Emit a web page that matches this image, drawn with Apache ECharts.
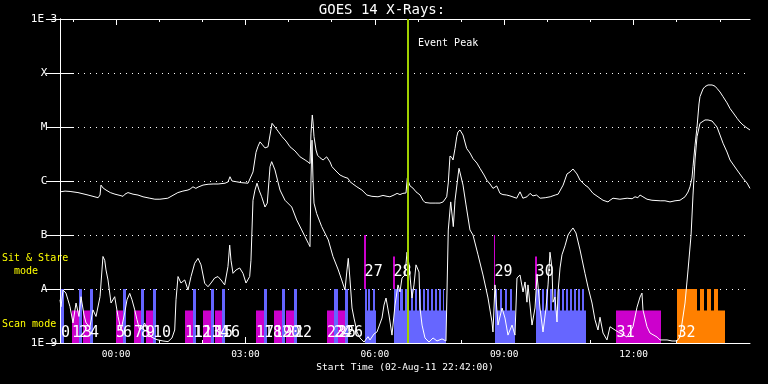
<!DOCTYPE html>
<html><head><meta charset="utf-8">
<script src="https://cdn.jsdelivr.net/npm/echarts@6/dist/echarts.min.js"></script>
<style>html,body{margin:0;padding:0;background:#000;}#c{width:768px;height:384px;}</style>
</head><body><div id="c"></div>
<script>
// ---- time axis: minutes after 02-Aug-11 22:42:00 ----
const tickMinutes = [78, 258, 438, 618, 798];
const tickLabels = ['00:00', '03:00', '06:00', '09:00', '12:00'];
const hourMinutes = [18, 78, 138, 198, 258, 318, 378, 438, 498, 558, 618, 678, 738, 798, 858, 918];
const levelExp = [-9, -8, -7, -6, -5, -4, -3];
const levelLabels = ['1E-9', 'A', 'B', 'C', 'M', 'X', '1E-3'];
const eventPeak = 484.2;

// ---- GOES 14 long channel (1-8 A), [minute, W/m2] ----
const xrsLong = [[0,6.3e-7],[7,6.5e-7],[14,6.4e-7],[25,6.1e-7],[39,5.5e-7],[53,4.9e-7],[55.7,5.5e-7],[57,8.4e-7],[60,7.4e-7],[64,6.8e-7],[70,6.1e-7],[76.5,5.7e-7],[83.5,5.4e-7],[87.7,5.2e-7],[90.4,5.7e-7],[94.6,6.1e-7],[101.6,5.7e-7],[108.5,5.5e-7],[115.5,5.1e-7],[125,4.8e-7],[132,4.6e-7],[139,4.6e-7],[150,4.8e-7],[160,5.7e-7],[164,6.1e-7],[171,6.5e-7],[178,6.8e-7],[181,7.1e-7],[185,7.8e-7],[189,7.3e-7],[192,7.7e-7],[199,8.4e-7],[206,8.7e-7],[213,8.8e-7],[220,8.8e-7],[229.6,9.1e-7],[233.7,9.6e-7],[236.5,1.2e-6],[239.3,1.0e-6],[245,9.7e-7],[253,9.3e-7],[261.6,9.1e-7],[264.3,9.7e-7],[268.5,1.47e-6],[272.7,3.4e-6],[275.5,4.4e-6],[278.3,5.3e-6],[281,4.8e-6],[285.2,4.1e-6],[289.4,4.3e-6],[292.2,7.1e-6],[295,1.17e-5],[299,1.0e-5],[303.3,8.4e-6],[309,6.6e-6],[314.4,5.5e-6],[320,4.3e-6],[327,3.6e-6],[334,2.8e-6],[341,2.45e-6],[345,2.25e-6],[347.8,2.1e-6],[349.2,7.7e-6],[351,1.67e-5],[352,1.24e-5],[353.4,6.6e-6],[356.2,3.75e-6],[358.3,3.0e-6],[361.7,2.7e-6],[366,2.45e-6],[371,2.8e-6],[375.7,2.25e-6],[378.4,1.84e-6],[384,1.53e-6],[389.6,1.29e-6],[395,1.19e-6],[400.7,1.12e-6],[403.5,9.7e-7],[407.6,8.8e-7],[413,7.8e-7],[420,6.8e-7],[427,5.5e-7],[434,5.2e-7],[442.4,5.1e-7],[449.4,5.4e-7],[455,5.2e-7],[459,5.1e-7],[464.7,5.5e-7],[469,5.9e-7],[473,5.6e-7],[477,5.9e-7],[481.4,6.0e-7],[483.2,1.14e-6],[487,8.1e-7],[491,7.4e-7],[495.3,6.3e-7],[498,6.5e-7],[501,5.5e-7],[505,4.4e-7],[507.8,4.0e-7],[514.8,3.9e-7],[523,3.9e-7],[528.7,3.9e-7],[533,4.1e-7],[535.6,4.4e-7],[538,5.1e-7],[540.2,9.2e-7],[542.6,2.9e-6],[545.4,2.7e-6],[546.8,2.45e-6],[549.6,4.0e-6],[552,6.6e-6],[553.7,8.1e-6],[556.5,8.8e-6],[560.7,7.1e-6],[565.8,4.0e-6],[570.4,3.3e-6],[574.6,2.6e-6],[580,2.15e-6],[584.3,1.72e-6],[590,1.29e-6],[593.7,1.04e-6],[598.3,8.8e-7],[602.4,7.3e-7],[604.5,7.7e-7],[607.6,8.1e-7],[612.2,5.9e-7],[616.3,5.6e-7],[621.5,5.5e-7],[626,5.3e-7],[635.4,4.8e-7],[637,5.3e-7],[640,6.3e-7],[644,4.8e-7],[649.7,5.1e-7],[654,5.9e-7],[658,5.3e-7],[663,5.5e-7],[668,4.8e-7],[675,4.9e-7],[682,5.1e-7],[689,5.5e-7],[693,5.7e-7],[695.7,6.0e-7],[700,8.4e-7],[705.4,1.35e-6],[709.6,1.47e-6],[713.7,1.67e-6],[719.3,1.35e-6],[723.5,1.04e-6],[730.4,8.4e-7],[734.6,7.7e-7],[741.6,5.9e-7],[748.5,5.1e-7],[755.5,4.4e-7],[762.4,4.1e-7],[765.2,4.4e-7],[769.4,4.8e-7],[779,4.6e-7],[789,4.8e-7],[796,4.7e-7],[800,5.1e-7],[804,4.9e-7],[807,5.5e-7],[811,5.1e-7],[816.7,4.6e-7],[823.6,4.4e-7],[835,4.3e-7],[841.7,4.3e-7],[848.7,4.1e-7],[855.7,4.3e-7],[862.6,4.4e-7],[869.6,5.1e-7],[873.8,6.25e-7],[876.5,7.8e-7],[879.3,1.14e-6],[880.7,1.84e-6],[883.5,4.6e-6],[886.3,1.0e-5],[889,2.67e-5],[890.4,3.64e-5],[894.6,5.05e-5],[897.4,5.6e-5],[901.6,6.0e-5],[907.2,6.0e-5],[911.3,5.7e-5],[914,5.2e-5],[918.3,4.45e-5],[922.5,3.64e-5],[928,2.8e-5],[932.2,2.2e-5],[937.8,1.74e-5],[942,1.45e-5],[946,1.24e-5],[950.3,1.09e-5],[955.8,9.6e-6],[960,8.8e-6]];

// ---- GOES 14 short channel (0.5-4 A), [minute, W/m2] ----
const xrsShort = [[0,6.3e-9],[1.4,4.7e-9],[4.2,9.6e-9],[8.3,8.4e-9],[11.1,6.3e-9],[13.9,4.7e-9],[18.1,2.35e-9],[22.3,5.5e-9],[26.4,3.1e-9],[29.2,7.2e-9],[33.4,3.3e-9],[36.2,2.35e-9],[41.7,2.0e-9],[45.9,4.1e-9],[50.1,3.1e-9],[55.7,7.2e-9],[58.4,2.25e-8],[59.8,4.0e-8],[62.2,3.4e-8],[64,2.25e-8],[66.8,1.47e-8],[71,5.5e-9],[76.1,7.2e-9],[80.7,3.1e-9],[84.9,1.74e-9],[90,3.6e-9],[93.2,6.3e-9],[97,8.3e-9],[100.2,6.3e-9],[104,4.1e-9],[107.1,2.7e-9],[110.9,1.74e-9],[114.1,1.9e-9],[117.8,2.35e-9],[122.4,1.6e-9],[126.6,1.31e-9],[132.2,1.19e-9],[136.3,1.14e-9],[143.3,1.09e-9],[150.3,1.06e-9],[155.8,1.24e-9],[159.6,1.74e-9],[161.4,6.3e-9],[164.2,1.7e-8],[168.3,1.29e-8],[173.5,1.47e-8],[178.1,9.6e-9],[182.3,1.7e-8],[187.4,3.0e-8],[192,3.7e-8],[196.2,2.8e-8],[201.3,1.28e-8],[205.9,1.1e-8],[210.1,1.29e-8],[215.2,1.6e-8],[219.8,1.7e-8],[224,1.47e-8],[229.1,1.19e-8],[233.7,2.6e-8],[236.1,6.5e-8],[237.9,3.4e-8],[240.7,1.95e-8],[244.9,2.25e-8],[250,2.45e-8],[254.6,1.95e-8],[258.8,1.29e-8],[263.9,1.7e-8],[265.7,3.4e-8],[268.5,4.4e-7],[271.3,6.8e-7],[274.1,9.1e-7],[276.9,6.8e-7],[280.6,5.1e-7],[285.2,3.3e-7],[288.4,3.9e-7],[292.2,1.84e-6],[294.5,2.28e-6],[299.1,1.6e-6],[306.1,6.8e-7],[313,4.4e-7],[322.4,3.3e-7],[329.3,1.9e-7],[336.3,1.24e-7],[340.9,9.3e-8],[345.5,7.0e-8],[347.8,6.1e-8],[349.2,1.04e-6],[350.6,5.7e-6],[352,1.04e-6],[353.4,3.9e-7],[357.1,2.5e-7],[364.1,1.43e-7],[373.3,8.1e-8],[379.8,4.0e-8],[387.2,2.25e-8],[391.9,1.47e-8],[396.5,9.6e-9],[399.3,2.25e-8],[401.1,3.7e-8],[403.5,1.47e-8],[406.3,4.45e-9],[409,2.9e-9],[413.2,1.6e-9],[417.4,1.24e-9],[423,1.04e-9],[428.5,1.31e-9],[431.3,1.14e-9],[436.9,1.47e-9],[441,1.6e-9],[448,2.9e-9],[450.8,5.05e-9],[453.6,6.8e-9],[457.7,3.3e-9],[461.9,1.4e-9],[466.1,5.05e-9],[470.3,1.19e-8],[473,8.8e-9],[475.8,1.6e-8],[480,1.82e-8],[482.8,4.8e-8],[485.6,2.8e-8],[489.7,6.8e-9],[492.5,1.19e-8],[495.3,2.8e-8],[499.5,2.06e-8],[500.9,4.45e-9],[503.7,2.15e-9],[507.8,1.24e-9],[513.4,1.04e-9],[519,1.24e-9],[524.5,1.09e-9],[531.5,1.19e-9],[537,1.09e-9],[540.2,1.24e-7],[543.6,4.1e-7],[547.2,1.43e-7],[549.6,4.4e-7],[555.1,1.72e-6],[560.7,8.4e-7],[564.9,3.6e-7],[570.4,1.24e-7],[574.6,1.0e-7],[581.6,4.3e-8],[588.5,1.82e-8],[595.5,6.8e-9],[601,2.45e-9],[602.4,1.6e-9],[605.2,1.19e-8],[609.4,2.15e-9],[615,4.45e-9],[619.1,2.9e-9],[623.3,1.4e-9],[628.9,2.15e-9],[633,1.4e-9],[635.8,1.6e-8],[640,1.82e-8],[644.2,8.8e-9],[647,1.35e-8],[649.7,5.7e-9],[651.1,1.19e-8],[656.7,2.15e-9],[660.9,4.45e-9],[663.7,1.82e-8],[667.8,4.45e-9],[672,1.6e-9],[676.2,4.45e-9],[679,1.19e-8],[681.7,4.8e-8],[684.5,2.45e-8],[685.9,5.7e-9],[688.7,7.1e-9],[691.5,2.45e-9],[692.9,8.8e-9],[695.7,2.45e-8],[698.4,4.3e-8],[702.6,6.3e-8],[706.8,1.0e-7],[709.6,1.14e-7],[713.7,1.35e-7],[717.9,1.09e-7],[723.5,5.3e-8],[730.4,1.95e-8],[734.6,1.09e-8],[740.2,5.5e-9],[744.3,2.7e-9],[748.5,1.74e-9],[751.3,3.0e-9],[755.5,1.53e-9],[761,1.14e-9],[765.2,2.0e-9],[772.2,1.74e-9],[779.1,1.53e-9],[788.9,1.29e-9],[797.2,2.0e-9],[802.8,4.6e-9],[807,7.1e-9],[809.7,8.4e-9],[811.1,4.1e-9],[816.7,2.0e-9],[820.9,1.53e-9],[830.7,1.29e-9],[834.8,1.14e-9],[844.6,1.14e-9],[851.5,1.09e-9],[858.4,1.09e-9],[862.6,1.29e-9],[869.6,5.5e-9],[873.8,2.25e-8],[878,1.0e-7],[880.7,5.5e-7],[883.5,2.45e-6],[886.3,6.6e-6],[890.4,1.17e-5],[897.4,1.35e-5],[901.6,1.35e-5],[907.2,1.29e-5],[914.1,1.0e-5],[918.3,7.1e-6],[922.5,5.0e-6],[928,3.44e-6],[932.2,2.45e-6],[941.9,1.6e-6],[950.3,1.12e-6],[955.8,9.2e-7],[960,7.3e-7]];

// ---- observation bars (levels in W/m2 on the same log scale) ----
const BASE = 1e-9, FULL = 1e-8, LOW = 4e-9;
const scanIds   = [0,1,2,3,4,5,6,7,8,9,10,11,12,13,14,15,16,17,18,19,20,21,22,23,24,25,26];
const scanKind  = ['S','R','S','R','S','R','S','R','S','R','S','R','S','R','S','R','S','R','S','R','S','R','S','R','S','R','S'];
const scanStart = [1.4,16.7,26.4,32,41.7,77.9,87.7,103,112.7,119.7,129.4,173.9,185,199,210.1,215.7,225.4,272.7,283.8,297.7,308.9,314.4,325.6,371.5,381.2,386.8,396.5];
const scanEnd   = [5.6,26.4,30.6,41.7,45.9,87.7,91.8,112.7,116.9,129.4,133.6,185,189.2,210.1,214.3,225.4,229.6,283.8,288,308.9,313,325.6,329.7,381.2,386.8,396.5,400.7];

const ssIds        = [27, 28, 29, 30];
const ssMarkStart  = [423, 463.3, 603.8, 660.9];
const ssMarkEnd    = [425.9, 466.1, 605.6, 663.7];
const ssMarkTop    = [1e-7, 4e-8, 1e-7, 4e-8];
const ssBlockStart = [424.3, 464.7, 605.2, 662.3];
const ssBlockEnd   = [439.6, 537, 633, 731.8];
const ssSpikes = [
  [[424.3,427.1],[428.5,431.3],[435.4,438.2]],
  [[464.7,471],[473,477],[480,485.5],[488.5,491],[494,496.7],[499.5,502],[505,507.8],[510.6,513.4],[516,519],[521.7,524.5],[527.3,530],[533,534.3]],
  [[605.2,608],[612.2,615],[619.1,622],[626.1,628.9]],
  [[662.3,667.8],[670.6,673.4],[676.2,679],[681.7,684.5],[687.3,690.1],[692.9,695.7],[698.4,701.2],[704,706.8],[709.6,712.3],[715.1,717.9],[720.7,723.5],[726.3,729]]
];
const rasterId = 31, rasterSpan = [773.6, 836.2];
const orangeId = 32, orangeSpan = [858.4, 925.2];
const orangeSpikes = [[858.4,886.3],[890.4,895.9],[900.2,905.8],[909.9,915.5]];

// ---- build bar tables ----
const blueBars = [], magentaBars = [], orangeBars = [];
scanIds.forEach((id, i) => {
  if (scanKind[i] === 'S') blueBars.push([scanStart[i], scanEnd[i], BASE, FULL]);
  else magentaBars.push([scanStart[i], scanEnd[i], BASE, LOW]);
});
ssIds.forEach((id, i) => {
  blueBars.push([ssBlockStart[i], ssBlockEnd[i], BASE, LOW]);
  ssSpikes[i].forEach(s => blueBars.push([s[0], s[1], BASE, FULL]));
  magentaBars.push([ssMarkStart[i], ssMarkEnd[i], FULL, ssMarkTop[i]]);
});
magentaBars.push([rasterSpan[0], rasterSpan[1], BASE, LOW]);
orangeBars.push([orangeSpan[0], orangeSpan[1], BASE, LOW]);
orangeSpikes.forEach(s => orangeBars.push([s[0], s[1], BASE, FULL]));

const SCAN_LABEL_Y = 1.55e-9, SS_LABEL_Y = 2.07e-8;
const labelData = [];
scanIds.forEach((id, i) => labelData.push([scanStart[i], SCAN_LABEL_Y, String(id)]));
ssIds.forEach((id, i) => labelData.push([ssMarkStart[i] + 0.8, SS_LABEL_Y, String(id)]));
labelData.push([rasterSpan[0] + 0.8, SCAN_LABEL_Y, String(rasterId)]);
labelData.push([orangeSpan[0] + 0.8, SCAN_LABEL_Y, String(orangeId)]);

function barItem(params, api) {
  const a = api.coord([api.value(0), api.value(3)]);
  const b = api.coord([api.value(1), api.value(2)]);
  const x0 = Math.round(a[0]), x1 = Math.max(Math.round(b[0]), x0 + 1);
  return { type: 'rect', shape: { x: x0, y: a[1], width: x1 - x0, height: b[1] - a[1] },
           style: { fill: api.visual('color') } };
}
function labelItem(params, api) {
  const p = api.coord([api.value(0), api.value(1)]);
  return { type: 'text', x: p[0], y: p[1],
           style: { text: labelData[params.dataIndex][2], fill: '#fff',
                    font: '15px "DejaVu Sans Mono"', align: 'left', verticalAlign: 'middle' } };
}

const W = '#ffffff';
const MONO = 'DejaVu Sans Mono';
const xBase = { type: 'value', min: 0, max: 960, splitLine: { show: false } };
const yBase = { type: 'log', logBase: 10, min: 1e-9, max: 1e-3 };

const chart = echarts.init(document.getElementById('c'), null, { renderer: 'canvas' });
chart.setOption({
  backgroundColor: '#000',
  animation: false,
  grid: { left: 60, right: 18, top: 19, bottom: 41, containLabel: false, outerBoundsMode: 'none' },
  xAxis: [
    Object.assign({}, xBase, { position: 'bottom',
      axisLine: { show: true, lineStyle: { color: W, width: 1 } },
      axisTick: { show: true, inside: true, length: 6, customValues: tickMinutes, lineStyle: { color: W } },
      axisLabel: { show: true, customValues: tickMinutes, color: W, fontFamily: MONO, fontSize: 9.5, margin: 7,
        formatter: v => tickLabels[tickMinutes.indexOf(Math.round(v))] || '' } }),
    Object.assign({}, xBase, { position: 'bottom',
      axisLine: { show: false },
      axisTick: { show: true, inside: true, length: 3, customValues: hourMinutes, lineStyle: { color: W } },
      axisLabel: { show: false } }),
    Object.assign({}, xBase, { position: 'top',
      axisLine: { show: true, lineStyle: { color: W, width: 1 } },
      axisTick: { show: true, inside: true, length: 3, customValues: hourMinutes, lineStyle: { color: W } },
      axisLabel: { show: false } }),
    Object.assign({}, xBase, { position: 'top',
      axisLine: { show: false },
      axisTick: { show: true, inside: true, length: 6, customValues: tickMinutes, lineStyle: { color: W } },
      axisLabel: { show: false } })
  ],
  yAxis: [
    Object.assign({}, yBase, { position: 'left',
      axisLine: { show: true, lineStyle: { color: W, width: 1 } },
      axisTick: { show: true, inside: true, length: 14, lineStyle: { color: W } },
      axisLabel: { color: W, fontFamily: MONO, fontSize: 11, align: 'center', margin: 16,
        formatter: v => levelLabels[levelExp.indexOf(Math.round(Math.log10(v)))] || '' },
      splitLine: { show: true, lineStyle: { color: W, width: 1, type: [1, 5] } } }),
    Object.assign({}, yBase, { position: 'right',
      axisLine: { show: true, lineStyle: { color: W, width: 1 } },
      axisTick: { show: true, inside: true, length: 14, lineStyle: { color: W } },
      axisLabel: { show: false }, splitLine: { show: false } })
  ],
  series: [
    { type: 'custom', name: 'scan', renderItem: barItem, data: blueBars, itemStyle: { color: '#6666ff' },
      encode: { x: [0, 1], y: [2, 3] }, silent: true, z: 2 },
    { type: 'custom', name: 'raster', renderItem: barItem, data: magentaBars, itemStyle: { color: '#cc00cc' },
      encode: { x: [0, 1], y: [2, 3] }, silent: true, z: 2 },
    { type: 'custom', name: 'other', renderItem: barItem, data: orangeBars, itemStyle: { color: '#ff8000' },
      encode: { x: [0, 1], y: [2, 3] }, silent: true, z: 2 },
    { type: 'custom', name: 'labels', renderItem: labelItem, data: labelData.map(d => [d[0], d[1]]),
      encode: { x: 0, y: 1 }, silent: true, z: 3 },
    { type: 'line', name: 'long', data: xrsLong, showSymbol: false, symbol: 'none', clip: true,
      lineStyle: { color: W, width: 1 }, z: 4, silent: true },
    { type: 'line', name: 'short', data: xrsShort, showSymbol: false, symbol: 'none', clip: true,
      lineStyle: { color: W, width: 1 }, z: 4, silent: true,
      markLine: { silent: true, symbol: 'none', animation: false, label: { show: false },
        lineStyle: { color: '#a0d000', width: 2, type: 'solid' }, data: [{ xAxis: eventPeak }] } }
  ],
  graphic: [
    { type: 'text', x: 382, y: 10, style: { text: 'GOES 14 X-Rays:', fill: W, font: '14px "DejaVu Sans Mono"', align: 'center', verticalAlign: 'middle' } },
    { type: 'text', x: 405, y: 368, style: { text: 'Start Time (02-Aug-11 22:42:00)', fill: W, font: '9.5px "DejaVu Sans Mono"', align: 'center', verticalAlign: 'middle' } },
    { type: 'text', x: 418, y: 43, style: { text: 'Event Peak', fill: W, font: '10px "DejaVu Sans Mono"', align: 'left', verticalAlign: 'middle' } },
    { type: 'text', x: 2, y: 258, style: { text: 'Sit & Stare', fill: '#ffff00', font: '10px "DejaVu Sans Mono"', align: 'left', verticalAlign: 'middle' } },
    { type: 'text', x: 2, y: 271, style: { text: '  mode', fill: '#ffff00', font: '10px "DejaVu Sans Mono"', align: 'left', verticalAlign: 'middle' } },
    { type: 'text', x: 2, y: 324, style: { text: 'Scan mode', fill: '#ffff00', font: '10px "DejaVu Sans Mono"', align: 'left', verticalAlign: 'middle' } }
  ]
});
</script></body></html>
